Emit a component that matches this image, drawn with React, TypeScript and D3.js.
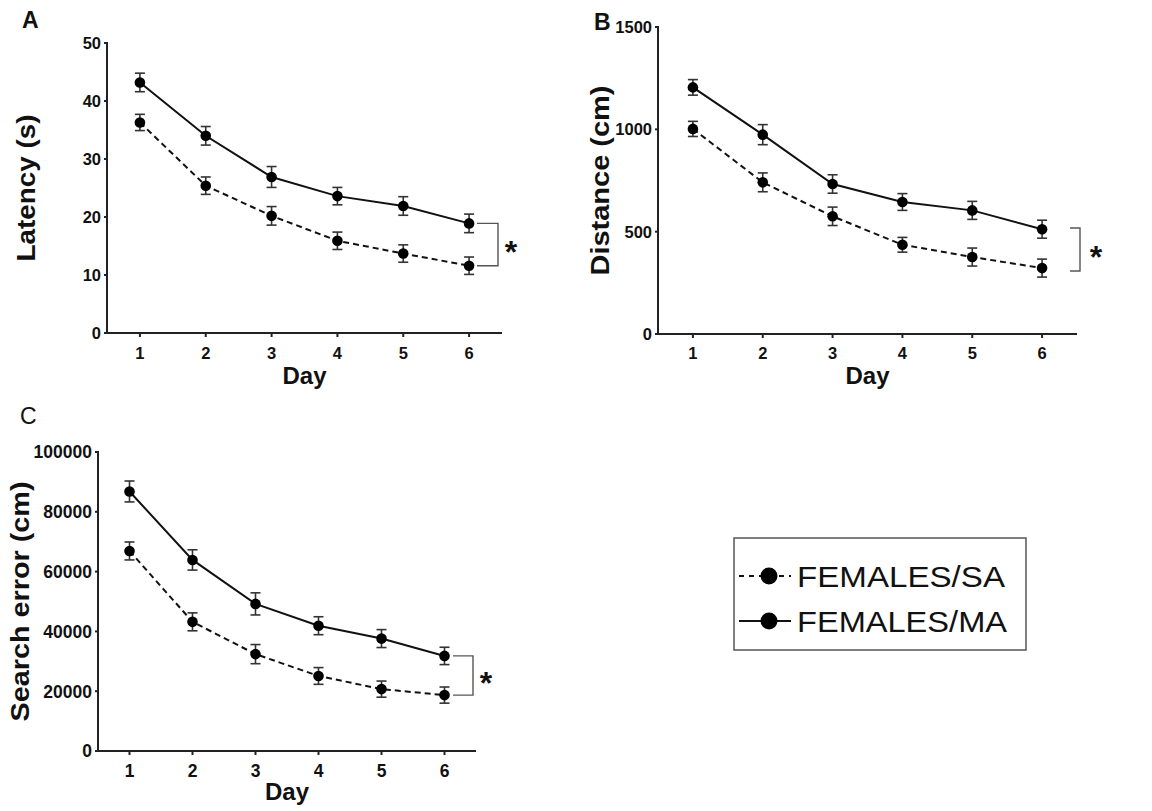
import React from 'react';
import * as d3 from 'd3';

// ---------- data ----------
const days = [1, 2, 3, 4, 5, 6];
const seriesNames = ['FEMALES/SA', 'FEMALES/MA'];

const latencySA = [36.3, 25.4, 20.2, 15.9, 13.7, 11.6];
const latencySAsem = [1.4, 1.5, 1.6, 1.5, 1.5, 1.5];
const latencyMA = [43.2, 34.0, 26.9, 23.6, 21.9, 18.9];
const latencyMAsem = [1.6, 1.6, 1.8, 1.5, 1.6, 1.6];
const latencyTicks = [0, 10, 20, 30, 40, 50];

const distanceSA = [1002, 741, 575, 436, 376, 322];
const distanceSAsem = [37, 46, 45, 36, 44, 44];
const distanceMA = [1205, 974, 733, 645, 604, 512];
const distanceMAsem = [38, 49, 45, 41, 44, 44];
const distanceTicks = [0, 500, 1000, 1500];

const searchSA = [66900, 43200, 32400, 25100, 20700, 18700];
const searchSAsem = [3000, 3000, 3200, 2800, 2700, 2700];
const searchMA = [86800, 63900, 49200, 41900, 37600, 31800];
const searchMAsem = [3500, 3400, 3700, 3000, 3000, 2900];
const searchTicks = [0, 20000, 40000, 60000, 80000, 100000];

const FONT = '"Liberation Sans", Arial, Helvetica, sans-serif';

type PanelProps = {
  letter: string;
  letterX: number;
  letterY: number;
  letterWeight: string;
  yLabel: string;
  yLabelX: number;
  yLabelLen: number;
  xRange: [number, number];
  yRange: [number, number];
  yTicks: number[];
  sa: number[];
  saSem: number[];
  ma: number[];
  maSem: number[];
  tickFont: number;
  xTickBaseline: number;
  dayBaseline: number;
  bracketX: [number, number];
  bracketY?: [number, number];
  starX: number;
};

function Panel(p: PanelProps) {
  const x = d3.scaleLinear().domain([0.5, 6.5]).range(p.xRange);
  const yMax = p.yTicks[p.yTicks.length - 1];
  const y = d3.scaleLinear().domain([0, yMax]).range(p.yRange);
  const line = d3
    .line<number>()
    .x((_, i) => x(days[i]))
    .y((v) => y(v));
  const cap = 5;
  const r = 5.3;
  const yMid = (p.yRange[0] + p.yRange[1]) / 2;
  const bTop = p.bracketY ? p.bracketY[0] : y(p.ma[5]);
  const bBot = p.bracketY ? p.bracketY[1] : y(p.sa[5]);
  const errBars = (vals: number[], sems: number[], key: string) =>
    vals.map((v, i) => {
      const cx = x(days[i]);
      const y1 = y(v + sems[i]);
      const y2 = y(v - sems[i]);
      return (
        <g key={key + i} stroke="#333" strokeWidth={1.6}>
          <line x1={cx} x2={cx} y1={y1} y2={y2} />
          <line x1={cx - cap} x2={cx + cap} y1={y1} y2={y1} />
          <line x1={cx - cap} x2={cx + cap} y1={y2} y2={y2} />
        </g>
      );
    });
  return (
    <g>
      <text x={p.letterX} y={p.letterY} fontSize={23} fontWeight={p.letterWeight} fontFamily={FONT} fill="#111">
        {p.letter}
      </text>
      {/* y axis */}
      <line x1={p.xRange[0]} x2={p.xRange[0]} y1={p.yRange[0]} y2={p.yRange[1] - 1} stroke="#222" strokeWidth={2} />
      {p.yTicks.map((t) => (
        <g key={'yt' + t}>
          <line x1={p.xRange[0] - 3} x2={p.xRange[0]} y1={y(t)} y2={y(t)} stroke="#222" strokeWidth={2} />
          <text
            x={p.xRange[0] - 6}
            y={y(t)}
            dy="0.36em"
            textAnchor="end"
            fontSize={p.tickFont}
            fontWeight="bold"
            fontFamily={FONT}
            fill="#111"
          >
            {t}
          </text>
        </g>
      ))}
      {/* x axis */}
      <line x1={p.xRange[0] - 1} x2={p.xRange[1]} y1={p.yRange[0]} y2={p.yRange[0]} stroke="#222" strokeWidth={2} />
      {days.map((d) => (
        <g key={'xt' + d}>
          <line x1={x(d)} x2={x(d)} y1={p.yRange[0]} y2={p.yRange[0] + 4} stroke="#222" strokeWidth={2} />
          <text
            x={x(d)}
            y={p.xTickBaseline}
            textAnchor="middle"
            fontSize={p.tickFont}
            fontWeight="bold"
            fontFamily={FONT}
            fill="#111"
          >
            {d}
          </text>
        </g>
      ))}
      <text
        x={(p.xRange[0] + p.xRange[1]) / 2}
        y={p.dayBaseline}
        textAnchor="middle"
        fontSize={24}
        fontWeight="bold"
        fontFamily={FONT}
        fill="#111"
      >
        Day
      </text>
      <text
        transform={`translate(${p.yLabelX},${yMid}) rotate(-90)`}
        textAnchor="middle"
        fontSize={25}
        fontWeight="bold"
        fontFamily={FONT}
        fill="#111"
        textLength={p.yLabelLen}
        lengthAdjust="spacingAndGlyphs"
      >
        {p.yLabel}
      </text>
      {/* lines */}
      <path d={line(p.sa) || ''} fill="none" stroke="#111" strokeWidth={2} strokeDasharray="6,4" />
      <path d={line(p.ma) || ''} fill="none" stroke="#111" strokeWidth={2} />
      {errBars(p.sa, p.saSem, 'sa')}
      {errBars(p.ma, p.maSem, 'ma')}
      {p.sa.map((v, i) => (
        <circle key={'cs' + i} cx={x(days[i])} cy={y(v)} r={r} fill="#000" />
      ))}
      {p.ma.map((v, i) => (
        <circle key={'cm' + i} cx={x(days[i])} cy={y(v)} r={r} fill="#000" />
      ))}
      {/* significance bracket */}
      <path
        d={`M${p.bracketX[0]},${bTop}H${p.bracketX[1]}V${bBot}H${p.bracketX[0]}`}
        fill="none"
        stroke="#555"
        strokeWidth={1.4}
      />
      <text
        x={p.starX}
        y={(bTop + bBot) / 2 + 18}
        textAnchor="middle"
        fontSize={32}
        fontWeight="bold"
        fontFamily={FONT}
        fill="#111"
      >
        *
      </text>
    </g>
  );
}

export default function App() {
  return (
    <svg
      width={1152}
      height={811}
      style={{ position: 'absolute', left: 0, top: 0, background: '#fff' }}
    >
      <rect x={0} y={0} width={1152} height={811} fill="#fff" />
      <Panel
        letter="A"
        letterX={22}
        letterY={28}
        letterWeight="bold"
        yLabel="Latency (s)"
        yLabelX={35}
        yLabelLen={147}
        xRange={[107, 502]}
        yRange={[333, 43]}
        yTicks={latencyTicks}
        sa={latencySA}
        saSem={latencySAsem}
        ma={latencyMA}
        maSem={latencyMAsem}
        tickFont={16.5}
        xTickBaseline={359}
        dayBaseline={384}
        bracketX={[477, 498]}
        starX={511}
      />
      <Panel
        letter="B"
        letterX={594}
        letterY={30}
        letterWeight="bold"
        yLabel="Distance (cm)"
        yLabelX={609}
        yLabelLen={190}
        xRange={[658, 1077]}
        yRange={[334, 27]}
        yTicks={distanceTicks}
        sa={distanceSA}
        saSem={distanceSAsem}
        ma={distanceMA}
        maSem={distanceMAsem}
        tickFont={16.5}
        xTickBaseline={359}
        dayBaseline={384}
        bracketX={[1070, 1080]}
        bracketY={[228, 271]}
        starX={1096}
      />
      <Panel
        letter="C"
        letterX={20}
        letterY={424}
        letterWeight="normal"
        yLabel="Search error (cm)"
        yLabelX={29}
        yLabelLen={240}
        xRange={[98, 476]}
        yRange={[751, 452]}
        yTicks={searchTicks}
        sa={searchSA}
        saSem={searchSAsem}
        ma={searchMA}
        maSem={searchMAsem}
        tickFont={17.5}
        xTickBaseline={777}
        dayBaseline={800}
        bracketX={[453, 473]}
        starX={486}
      />
      {/* legend */}
      <g>
        <rect x={734} y={538} width={292} height={112} fill="none" stroke="#555" strokeWidth={1.5} />
        {seriesNames.map((name, i) => {
          const cy = i === 0 ? 576 : 621;
          return (
            <g key={name}>
              <line
                x1={739}
                x2={791}
                y1={cy}
                y2={cy}
                stroke="#111"
                strokeWidth={2.2}
                strokeDasharray={i === 0 ? '5,5' : undefined}
              />
              <circle cx={769} cy={cy} r={8.5} fill="#000" />
              <text
                x={797}
                y={cy + 11}
                fontSize={30}
                fontFamily={FONT}
                fill="#111"
                textLength={i === 0 ? 208 : 210}
                lengthAdjust="spacingAndGlyphs"
              >
                {name}
              </text>
            </g>
          );
        })}
      </g>
    </svg>
  );
}
